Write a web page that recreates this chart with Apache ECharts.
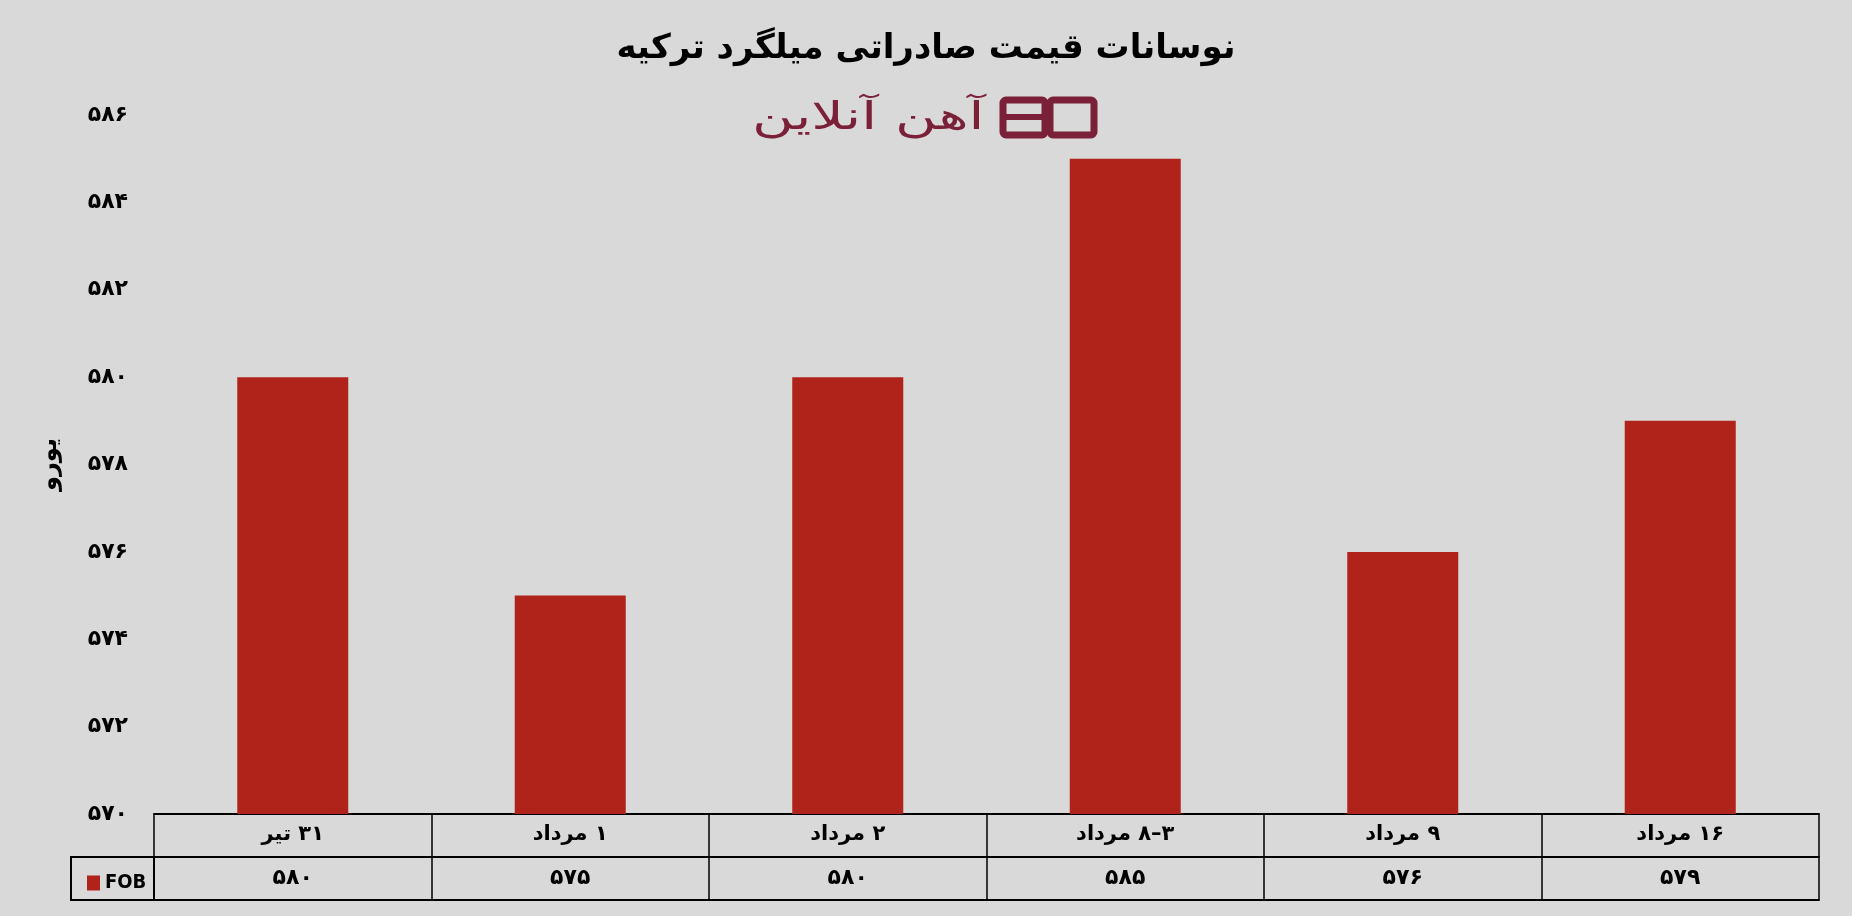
<!DOCTYPE html>
<html>
<head>
<meta charset="utf-8">
<script src="https://cdn.jsdelivr.net/npm/echarts@6/dist/echarts.min.js"></script>
<style>
html,body{margin:0;padding:0;background:#d9d9d9;}
#c{width:1852px;height:916px;}
</style>
</head>
<body>
<div id="c"></div>
<script>
var categories = ['۳۱ تیر', '۱ مرداد', '۲ مرداد', '۳–۸ مرداد', '۹ مرداد', '۱۶ مرداد'];
var fobValues = [580, 575, 580, 585, 576, 579];
var seriesName = 'FOB';
var titleText = 'نوسانات قیمت صادراتی میلگرد ترکیه';
var logoText = 'آهن آنلاین';
var yAxisName = 'یورو';
var yMin = 570, yMax = 586, yInterval = 2;

function fa(n){ return String(n).replace(/\d/g, function(d){ return '۰۱۲۳۴۵۶۷۸۹'[d]; }); }
// right-to-left visual order drawn explicitly as left-to-right tokens:
// month on the left, day number on the right (a day range is shown reversed, as in RTL text)
function catLabel(v){
  var i = v.indexOf(' ');
  var num = v.slice(0, i), month = v.slice(i + 1);
  var vis = num.split('–').reverse().join('–');
  var s = '{t|' + month + '}{t| }';
  for (var k = 0; k < vis.length; k++) s += '{t|' + vis[k] + '}';
  return s;
}
function numLabel(v){
  var s = '';
  for (var k = 0; k < v.length; k++) s += '{t|' + v[k] + '}';
  return s;
}

var chart = echarts.init(document.getElementById('c'));
var FONT = 'DejaVu Sans';
var MAROON = '#7a2038';
var option = {
  backgroundColor: '#d9d9d9',
  animation: false,
  title: {
    text: titleText,
    left: 'center',
    top: 27,
    textStyle: { fontFamily: FONT, fontSize: 34, fontWeight: 'bold', color: '#000' }
  },
  legend: {
    data: [seriesName],
    left: 82, top: 868,
    icon: 'rect', itemWidth: 13, itemHeight: 15, itemGap: 4,
    textStyle: { fontFamily: "'DejaVu Sans Condensed', 'Liberation Sans', sans-serif", fontWeight: 'bold', fontSize: 20, color: '#000' }
  },
  grid: { left: 154, right: 33, top: 115, bottom: 102 },
  xAxis: [
    {
      type: 'category', data: categories, position: 'bottom',
      axisLine: { show: true, lineStyle: { color: '#000', width: 2 } },
      axisTick: { show: true, length: 86, lineStyle: { color: '#000', width: 1.5 } },
      axisLabel: { margin: 10, formatter: catLabel,
        rich: { t: { fontFamily: FONT, fontWeight: 'bold', fontSize: 21, color: '#000' } } }
    },
    {
      type: 'category', data: fobValues.map(fa), position: 'bottom', offset: 43,
      axisLine: { show: true, lineStyle: { color: '#000', width: 2 } },
      axisTick: { show: false },
      axisLabel: { margin: 10, formatter: numLabel,
        rich: { t: { fontFamily: FONT, fontWeight: 'bold', fontSize: 22, color: '#000' } } }
    },
    {
      type: 'category', data: categories, position: 'bottom', offset: 86,
      axisLine: { show: true, lineStyle: { color: '#000', width: 2 } },
      axisTick: { show: false },
      axisLabel: { show: false }
    }
  ],
  yAxis: {
    type: 'value', min: yMin, max: yMax, interval: yInterval,
    name: yAxisName, nameLocation: 'middle', nameGap: 92, nameRotate: 90,
    nameTextStyle: { fontFamily: FONT, fontWeight: 'bold', fontSize: 24, color: '#000' },
    axisLine: { show: false }, axisTick: { show: false },
    splitLine: { show: false },
    axisLabel: { margin: 26, fontFamily: FONT, fontWeight: 'bold', fontSize: 22, color: '#000', formatter: function(v){ return fa(v); } }
  },
  series: [{
    name: seriesName, type: 'bar', xAxisIndex: 0, data: fobValues,
    barWidth: '40%',
    itemStyle: { color: '#b0231a' }
  }],
  graphic: [
    { type: 'rect', shape: { x: 71, y: 857, width: 83, height: 43 }, style: { fill: 'none', stroke: '#000', lineWidth: 2 } },
    { type: 'text', x: 752, y: 100, scaleX: 1.5, style: { text: logoText, fontFamily: FONT, fontSize: 38, fill: MAROON } },
    { type: 'group', x: 1000, y: 97, children: [
      { type: 'rect', shape: { x: 3, y: 3, width: 42, height: 35, r: 3 }, style: { fill: 'none', stroke: MAROON, lineWidth: 7 } },
      { type: 'line', shape: { x1: 3, y1: 20, x2: 45, y2: 20 }, style: { stroke: MAROON, lineWidth: 6 } },
      { type: 'rect', shape: { x: 50, y: 3, width: 44, height: 35, r: 3 }, style: { fill: 'none', stroke: MAROON, lineWidth: 7 } }
    ]}
  ]
};
chart.setOption(option);
</script>
</body>
</html>
